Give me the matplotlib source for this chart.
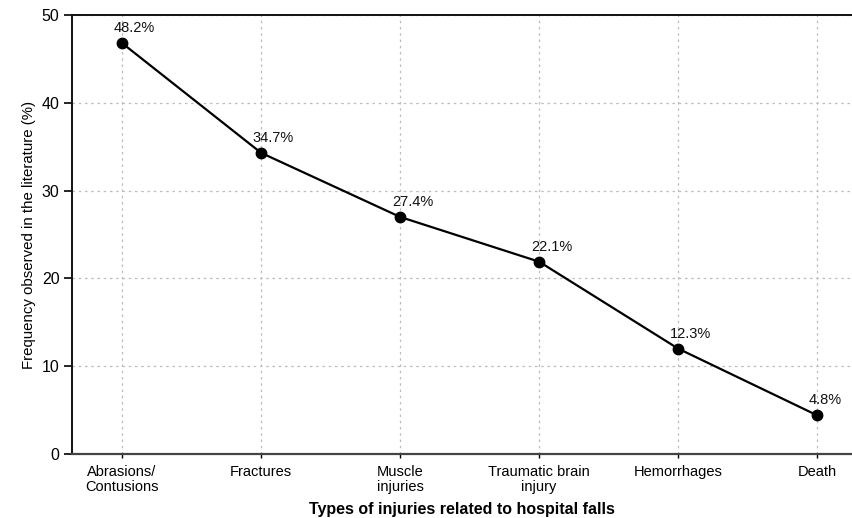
import matplotlib
matplotlib.use("Agg")
import matplotlib.pyplot as plt

categories = ["Abrasions/\nContusions", "Fractures", "Muscle\ninjuries",
              "Traumatic brain\ninjury", "Hemorrhages", "Death"]
point_values = [46.8, 34.3, 27.0, 21.9, 12.0, 4.4]
value_labels = ["48.2%", "34.7%", "27.4%", "22.1%", "12.3%", "4.8%"]
y_ticks = [0, 10, 20, 30, 40, 50]

plt.rcParams['font.family'] = ['Liberation Sans', 'DejaVu Sans']

fig = plt.figure(figsize=(8.52, 5.18), dpi=100)
ax = fig.add_axes([72/852, 64/518, 1 - 72/852, (454-15)/518])

x = list(range(len(categories)))
ax.plot(x, point_values, color='black', lw=1.6, marker='o', ms=7.5, zorder=3)
for xi, v, lab in zip(x, point_values, value_labels):
    ax.annotate(lab, (xi, v), xytext=(-6, 8), textcoords='offset points',
                ha='left', va='baseline', fontsize=10.5, color='#111111')

ax.set_xlim(-0.36, 5.25)
ax.set_ylim(0, 50)
ax.set_yticks(y_ticks)
ax.set_xticks(x)
ax.set_xticklabels(categories, fontsize=10.5, linespacing=1.05)
ax.tick_params(axis='y', labelsize=11.5, length=6, width=1.2, pad=3)
ax.tick_params(axis='x', length=3, width=1.0, pad=5)
ax.grid(True, color='#bdbdbd', linestyle=(0, (2, 3)), lw=0.9)
ax.set_axisbelow(True)
ax.spines['right'].set_visible(False)
for s in ['left', 'top']:
    ax.spines[s].set_color('#111111')
    ax.spines[s].set_linewidth(1.4)
ax.spines['bottom'].set_color('#444444')
ax.spines['bottom'].set_linewidth(1.6)

ax.set_ylabel("Frequency observed in the literature (%)", fontsize=10.8, labelpad=4)
ax.set_xlabel("Types of injuries related to hospital falls", fontsize=11.5,
              fontweight='bold', labelpad=6)

fig.savefig("out.png", dpi=100)
